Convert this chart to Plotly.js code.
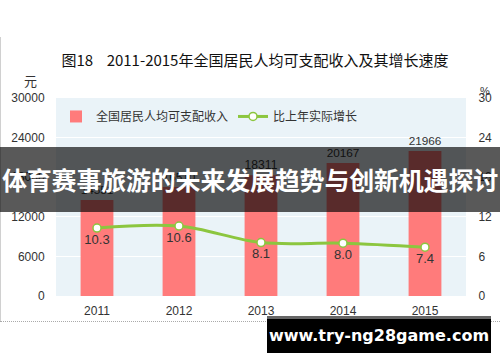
<!DOCTYPE html>
<html><head><meta charset="utf-8">
<script src="https://cdn.plot.ly/plotly-3.0.1.min.js"></script>
<style>
html,body{margin:0;padding:0;background:#fff;}
#wrap{position:relative;width:500px;height:362px;overflow:hidden;}
#chart{position:absolute;left:0;top:0;width:500px;height:362px;}
#leftline{position:absolute;left:0;top:37px;width:1px;height:285px;background:#d0d0d0;}
#dotline{position:absolute;left:0;top:321px;width:500px;height:0;border-top:1px dotted #aaa;}
#banner{position:absolute;left:0;top:147px;width:500px;height:65px;background:rgba(0,0,0,0.65);color:#fff;
 font-family:"Noto Sans CJK SC",sans-serif;font-weight:bold;font-size:25px;line-height:65px;text-align:center;white-space:nowrap;letter-spacing:-0.2px;}
#wm{position:absolute;left:267px;top:316px;width:224px;height:37px;background:#000;border-top:3px solid #666;box-sizing:border-box;
 color:#fff;font-family:"DejaVu Sans",Verdana,sans-serif;font-weight:bold;font-size:16px;line-height:33px;text-align:center;white-space:nowrap;}
</style></head>
<body>
<div id="wrap">
<div id="chart"></div>
<div id="leftline"></div>
<div id="dotline"></div>
<div id="banner">体育赛事旅游的未来发展趋势与创新机遇探讨</div>
<div id="wm">www.try-ng28game.com</div>
</div>
<script>
const years = ['2011','2012','2013','2014','2015'];
const income = [14551, 16510, 18311, 20167, 21966];
const growth = [10.3, 10.6, 8.1, 8.0, 7.4];
const incomeName = '全国居民人均可支配收入';
const growthName = '比上年实际增长';
const titleText = '图18&nbsp;&nbsp;&nbsp;&nbsp;2011-2015年全国居民人均可支配收入及其增长速度';

const font = 'Noto Sans CJK SC, Liberation Sans, sans-serif';
const traces = [
 {type:'bar', x:years, y:income, name:incomeName, marker:{color:'#ff7b7b'},
  text:income.map(String), textposition:'outside', cliponaxis:false,
  textfont:{size:13,color:'#333',family:'Liberation Sans, sans-serif'}, hoverinfo:'none'},
 {type:'scatter', mode:'lines+markers+text', x:years, y:growth, yaxis:'y2', name:growthName,
  line:{color:'#8cc63f',width:3,shape:'spline'},
  marker:{size:8,color:'#fff',line:{color:'#8cc63f',width:1.5}},
  text:growth.map(v=>v.toFixed(1)), textposition:'bottom center',
  textfont:{size:13,color:'#333',family:'Liberation Sans, sans-serif'}, hoverinfo:'none'}
];
const layout = {
 width:500, height:362,
 margin:{l:56,r:34,t:98,b:66},
 paper_bgcolor:'#fff', plot_bgcolor:'#eaf3f8',
 font:{family:font,size:12,color:'#333'},
 title:{text:titleText, x:0.51, xanchor:'center', y:0.833, yanchor:'middle', font:{size:15,color:'#111',family:font}},
 bargap:0.6,
 showlegend:true,
 legend:{orientation:'h', x:0, y:0.98, xanchor:'left', yanchor:'top', bgcolor:'rgba(0,0,0,0)', font:{size:12,color:'#333'}, itemwidth:30, traceorder:'normal'},
 xaxis:{type:'category', showgrid:false, zeroline:false, showline:false, ticks:'outside', ticklen:4, tickcolor:'rgba(0,0,0,0)',
  tickfont:{size:12,color:'#333',family:'Liberation Sans, sans-serif'}},
 yaxis:{range:[0,30000], dtick:6000, tickformat:'d', showgrid:true, gridcolor:'#ffffff', gridwidth:1, zeroline:false, showline:false,
  ticks:'outside', ticklen:8, tickcolor:'rgba(0,0,0,0)', tickfont:{size:12,color:'#333',family:'Liberation Sans, sans-serif'}},
 yaxis2:{range:[0,30], dtick:6, tickformat:'d', overlaying:'y', side:'right', showgrid:false, zeroline:false, showline:false,
  ticks:'outside', ticklen:9, tickcolor:'rgba(0,0,0,0)', tickfont:{size:12,color:'#333',family:'Liberation Sans, sans-serif'}},
 annotations:[
  {text:'元', xref:'paper', yref:'paper', x:-0.063, y:1.09, xanchor:'center', yanchor:'middle', showarrow:false, font:{size:13,color:'#333'}},
  {text:'%', xref:'paper', yref:'paper', x:1.047, y:1.035, xanchor:'center', yanchor:'middle', showarrow:false, font:{size:11,color:'#333',family:'Liberation Sans, sans-serif'}}
 ]
};
Plotly.newPlot('chart', traces, layout, {displayModeBar:false, staticPlot:true});
</script>
</body></html>
